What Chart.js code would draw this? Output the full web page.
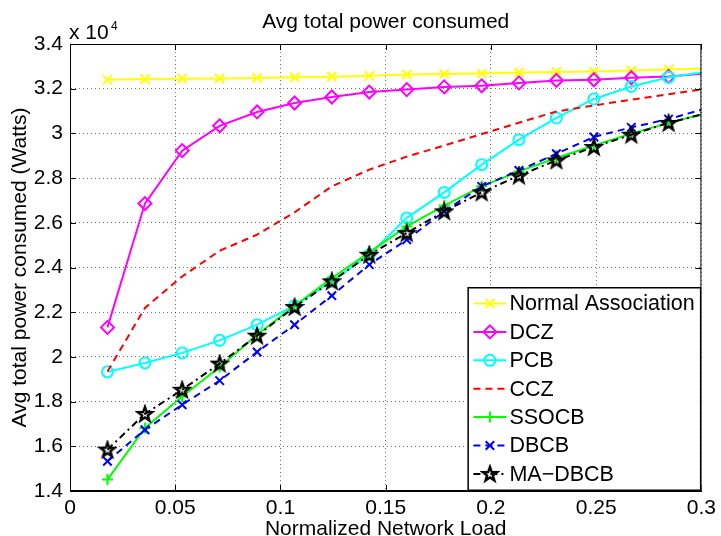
<!DOCTYPE html>
<html>
<head>
<meta charset="utf-8">
<title>Avg total power consumed</title>
<script src="https://cdn.jsdelivr.net/npm/chart.js@4.4.1/dist/chart.umd.min.js"></script>
<style>
    html, body { margin: 0; padding: 0; background: #fff; }
    canvas { display: block; }
</style>
</head>
<body>
<canvas id="powerChart" width="721" height="536"></canvas>
<script>
// === Data (power in Watts) ===
const loadValues = [0.0178, 0.0356, 0.0533, 0.0711, 0.0889, 0.1067, 0.1244, 0.1422, 0.16,
    0.1778, 0.1956, 0.2133, 0.2311, 0.2489, 0.2667, 0.2844, 0.3022];
const xTicks = [0, 0.05, 0.1, 0.15, 0.2, 0.25, 0.3];
const yTicks = [14000, 16000, 18000, 20000, 22000, 24000, 26000, 28000, 30000, 32000, 34000];
const seriesNames = ['Normal Association', 'DCZ', 'PCB', 'CCZ', 'SSOCB', 'DBCB', 'MA\u2212DBCB'];

const normalAssociation = [32400, 32430, 32450, 32460, 32480, 32510, 32540, 32580, 32630,
    32660, 32680, 32720, 32750, 32770, 32810, 32860, 32900];
const dcz = [21320, 26860, 29230, 30340, 30960, 31360, 31630, 31850, 31960,
    32080, 32130, 32260, 32370, 32400, 32490, 32550, 32680];
const pcb = [19330, 19730, 20180, 20740, 21440, 22290, 23380, 24570, 26220,
    27360, 28600, 29720, 30690, 31540, 32100, 32510, 32750];
const ccz = [19350, 22190, 23600, 24750, 25470, 26470, 27630, 28380, 28960,
    29460, 29970, 30480, 30980, 31250, 31510, 31750, 32000];
const ssocb = [14510, 16820, 18230, 19550, 20990, 22290, 23530, 24680, 25840,
    26770, 27630, 28300, 28900, 29460, 29990, 30470, 30900];
const dbcb = [15330, 16740, 17860, 18940, 20220, 21440, 22740, 24130, 25240,
    26510, 27630, 28340, 29090, 29840, 30270, 30640, 31120];
const maDbcb = [15850, 17450, 18530, 19700, 20950, 22230, 23380, 24570, 25540,
    26510, 27360, 28110, 28790, 29390, 29940, 30470, 30900];

const seriesValues = [normalAssociation, dcz, pcb, ccz, ssocb, dbcb, maDbcb];

// pentagram marker like matlab's 'p'
const makeStar = () => {
    const c = document.createElement('canvas');
    c.width = 20;
    c.height = 20;
    const g = c.getContext('2d');
    g.beginPath();
    for (let i = 0; i < 10; i++) {
        const r = i % 2 === 0 ? 7.5 : 3;
        const a = -Math.PI / 2 + i * Math.PI / 5;
        g.lineTo(10 + r * Math.cos(a), 10.5 + r * Math.sin(a));
    }
    g.closePath();
    g.lineWidth = 2.4;
    g.strokeStyle = '#000';
    g.lineJoin = 'miter';
    g.stroke();
    return c;
};

// === Styles per series ===
const seriesStyles = [
    { color: '#ffff00', dash: [], marker: 'crossRot', radius: 6.5 },
    { color: '#ff00ff', dash: [], marker: 'rectRot', radius: 6.5 },
    { color: '#00ffff', dash: [], marker: 'circle', radius: 5.5 },
    { color: '#ff0000', dash: [7, 5], marker: false, radius: 0 },
    { color: '#00ff00', dash: [], marker: 'cross', radius: 5.5 },
    { color: '#0000ff', dash: [7, 5], marker: 'crossRot', radius: 6 },
    { color: '#000000', dash: [7, 4, 2, 4], marker: makeStar(), radius: 8 }
];

const FONT = '"Liberation Sans", Arial, Helvetica, sans-serif';
const lastIndex = loadValues.length - 1;

const datasets = seriesNames.map((name, i) => {
    const st = seriesStyles[i];
    return {
        label: name,
        data: loadValues.map((x, j) => ({ x: x, y: seriesValues[i][j] })),
        borderColor: st.color,
        backgroundColor: st.color,
        borderWidth: 2,
        borderDash: st.dash,
        tension: 0,
        fill: false,
        pointStyle: st.marker,
        legendRadius: st.radius,
        // last sample sits just past the axis limit, matlab clips its marker
        pointRadius: ctx => (st.marker && ctx.dataIndex < lastIndex ? st.radius : 0),
        pointHoverRadius: 0,
        pointBorderWidth: 2,
        pointBorderColor: st.color,
        pointBackgroundColor: 'rgba(0,0,0,0)',
        order: seriesNames.length - i
    };
});

// title, exponent, box, inward ticks
const figureDecor = {
    id: 'figureDecor',
    afterDatasetsDraw(chart) {
        const { ctx, chartArea: a, scales } = chart;
        ctx.save();
        ctx.strokeStyle = '#000';
        ctx.lineWidth = 1;
        ctx.setLineDash([]);
        ctx.strokeRect(a.left + 0.5, a.top + 0.5, a.right - a.left - 1, a.bottom - a.top - 1);
        ctx.beginPath();
        xTicks.forEach(v => {
            const px = Math.round(scales.x.getPixelForValue(v)) + 0.5;
            ctx.moveTo(px, a.bottom);
            ctx.lineTo(px, a.bottom - 6);
            ctx.moveTo(px, a.top);
            ctx.lineTo(px, a.top + 6);
        });
        yTicks.forEach(v => {
            const py = Math.round(scales.y.getPixelForValue(v)) + 0.5;
            ctx.moveTo(a.left, py);
            ctx.lineTo(a.left + 6, py);
            ctx.moveTo(a.right, py);
            ctx.lineTo(a.right - 6, py);
        });
        ctx.stroke();

        ctx.fillStyle = '#000';
        ctx.textBaseline = 'alphabetic';
        ctx.textAlign = 'center';
        ctx.font = '21px ' + FONT;
        ctx.fillText('Avg total power consumed', (a.left + a.right) / 2, 28);
        ctx.textAlign = 'left';
        ctx.fillText('x 10', 69, 39);
        ctx.font = '12px ' + FONT;
        ctx.fillText('4', 111, 29.5);
        ctx.restore();
    },
    afterDraw(chart) {
        const { ctx, chartArea: a } = chart;
        const w = 234, h = 204;
        const x0 = a.right - w, y0 = a.bottom - h;
        ctx.save();
        ctx.fillStyle = '#fff';
        ctx.fillRect(x0, y0, w, h);
        ctx.strokeStyle = '#000';
        ctx.lineWidth = 1.5;
        ctx.strokeRect(x0 + 0.75, y0 + 0.75, w - 1.5, h - 1.5);
        ctx.font = '21.5px ' + FONT;
        ctx.textBaseline = 'middle';
        ctx.textAlign = 'left';
        chart.data.datasets.forEach((ds, i) => {
            const y = y0 + 16.5 + i * 28.4;
            ctx.strokeStyle = ds.borderColor;
            ctx.lineWidth = 2;
            ctx.setLineDash(ds.borderDash);
            ctx.beginPath();
            ctx.moveTo(x0 + 6, y);
            ctx.lineTo(x0 + 39, y);
            ctx.stroke();
            ctx.setLineDash([]);
            if (ds.pointStyle) {
                ctx.fillStyle = 'rgba(0,0,0,0)';
                ctx.lineWidth = 2;
                Chart.helpers.drawPoint(ctx, {
                    pointStyle: ds.pointStyle,
                    radius: ds.legendRadius,
                    rotation: 0,
                    borderWidth: 2
                }, x0 + 22.5, y);
            }
            ctx.fillStyle = '#000';
            ctx.fillText(ds.label, x0 + 42, y + 1);
        });
        ctx.restore();
    }
};

const gridOpts = {
    color: 'rgba(0,0,0,0.55)',
    lineWidth: 1,
    drawTicks: false
};
const borderOpts = { display: true, color: '#000', width: 1, dash: [1, 3] };

new Chart(document.getElementById('powerChart').getContext('2d'), {
    type: 'line',
    data: { datasets: datasets },
    options: {
        responsive: false,
        animation: false,
        devicePixelRatio: 1,
        events: [],
        layout: { padding: { top: 44, right: 15, bottom: 0, left: 0 } },
        plugins: {
            legend: { display: false },
            tooltip: { enabled: false },
            title: { display: false }
        },
        scales: {
            x: {
                type: 'linear',
                min: 0,
                max: 0.3,
                afterBuildTicks: s => { s.ticks = xTicks.map(v => ({ value: v })); },
                afterFit: s => { s.height = 45; },
                ticks: {
                    color: '#000',
                    font: { family: FONT, size: 21 },
                    padding: 5,
                    maxRotation: 0,
                    callback: v => String(Math.round(v * 100) / 100)
                },
                grid: gridOpts,
                border: borderOpts,
                title: {
                    display: true,
                    text: 'Normalized Network Load',
                    color: '#000',
                    font: { family: FONT, size: 21, lineHeight: 0.6 },
                    padding: 0
                }
            },
            y: {
                type: 'linear',
                min: 14000,
                max: 34000,
                afterBuildTicks: s => { s.ticks = yTicks.map(v => ({ value: v })); },
                afterFit: s => { s.width = 70; },
                ticks: {
                    color: '#000',
                    font: { family: FONT, size: 21 },
                    padding: 7,
                    callback: v => String(Math.round(v / 1000) / 10)
                },
                grid: gridOpts,
                border: borderOpts,
                title: {
                    display: true,
                    text: 'Avg total power consumed (Watts)',
                    color: '#000',
                    font: { family: FONT, size: 21 },
                    padding: { top: 8, bottom: 0 }
                }
            }
        }
    },
    plugins: [figureDecor]
});
</script>
</body>
</html>
